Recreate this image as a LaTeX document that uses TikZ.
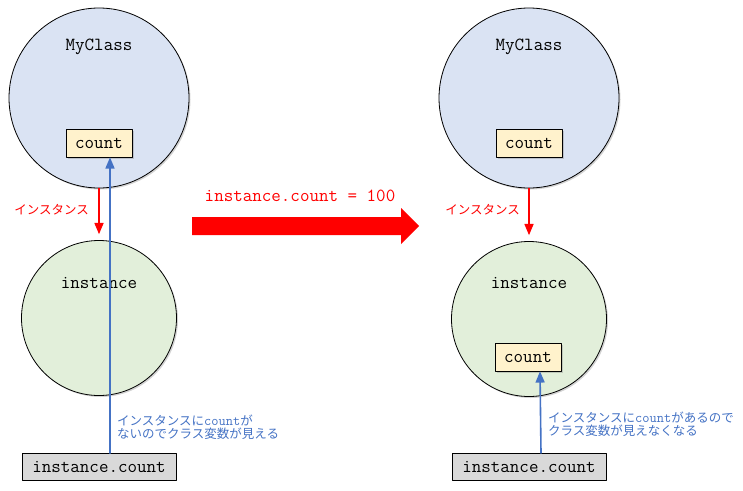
\documentclass[tikz,border=0pt]{standalone}
\usepackage{fontspec}
\newfontfamily\jpfont{Noto Sans CJK JP}
\usepackage{tikz}
\usetikzlibrary{calc}
\usetikzlibrary{arrows}
\usetikzlibrary{shadows}
\definecolor{ffqqqq}{rgb}{1.,0.,0.}
\definecolor{ddeeff}{rgb}{0.855,0.890,0.953}
\definecolor{eeffdd}{rgb}{0.886,0.937,0.855}
\definecolor{ffffcc}{rgb}{1.,0.949,0.8}
\definecolor{dddddd}{rgb}{0.851,0.851,0.851}
\definecolor{qqzzcc}{rgb}{0.267,0.447,0.769}
\tikzstyle{every node}=[font=\fontsize{18.5pt}{20pt}\selectfont\ttfamily]
\tikzstyle{cls}=[circle,draw=black,line width=0.8pt,fill=ddeeff,minimum size=180pt,inner sep=0pt,drop shadow={shadow xshift=1.5pt,shadow yshift=-1.5pt,opacity=0.35}]
\tikzstyle{obj}=[cls,fill=eeffdd,minimum size=155pt]
\tikzstyle{var}=[rectangle,draw=black,line width=0.8pt,fill=ffffcc,minimum width=66pt,minimum height=28pt,inner sep=0pt,drop shadow={shadow xshift=1.5pt,shadow yshift=-1.5pt,opacity=0.35}]
\tikzstyle{ref}=[rectangle,draw=black,line width=0.8pt,fill=dddddd,minimum width=154pt,minimum height=27pt,inner sep=0pt]
\tikzstyle{jp}=[font=\fontsize{12.5pt}{13pt}\selectfont\jpfont,inner sep=0pt]
\begin{document}
\begin{tikzpicture}[line cap=round,line join=round,>=triangle 45,x=1.0pt,y=-1.0pt]
            \useasboundingbox (0,0) rectangle (743,490);
            \node[cls] (cls1) at (99,98) {};
            \node (name1) at (99,47) {MyClass};
            \node[var] (cnt1) at (99,143) {count};
            \node[obj] (inst1) at (99,318) {};
            \node (iname1) at (99,283) {instance};
            \node[ref] (ic1) at (99,467) {instance.count};
            \draw [->,line width=1.6pt,color=ffqqqq,shorten >=6pt] (cls1.south) -- (inst1.north);
            \node[jp,color=ffqqqq,anchor=east] (lbl1) at (89,210) {インスタンス};
            \draw [->,line width=1.6pt,color=qqzzcc] ([xshift=11pt]ic1.north) -- ([xshift=11pt]cnt1.south);
            \node[jp,color=qqzzcc,anchor=north west,align=left] (note1) at (117,415) {インスタンスに{\fontsize{14pt}{13pt}\selectfont\ttfamily count}が\\ないのでクラス変数が見える};
            \fill [color=ffqqqq] (192,217) -- (401,217) -- (401,208) -- (419,226) -- (401,244) -- (401,235) -- (192,235) -- cycle;
            \node[color=ffqqqq] (asg) at (300,196) {instance.count = 100};
            \node[cls] (cls2) at (529,98) {};
            \node (name2) at (529,47) {MyClass};
            \node[var] (cnt2) at (529,143) {count};
            \node[obj] (inst2) at (529,319) {};
            \node (iname2) at (529,283) {instance};
            \node[var] (cnt3) at (528,357) {count};
            \node[ref] (ic2) at (529,467) {instance.count};
            \draw [->,line width=1.6pt,color=ffqqqq,shorten >=6pt] (cls2.south) -- (inst2.north);
            \node[jp,color=ffqqqq,anchor=east] (lbl2) at (520,210) {インスタンス};
            \draw [->,line width=1.6pt,color=qqzzcc] ([xshift=12pt]ic2.north) -- ([xshift=12pt]cnt3.south);
            \node[jp,color=qqzzcc,anchor=north west,align=left] (note2) at (548,412) {インスタンスに{\fontsize{14pt}{13pt}\selectfont\ttfamily count}があるので\\クラス変数が見えなくなる};
\end{tikzpicture}
\end{document}
